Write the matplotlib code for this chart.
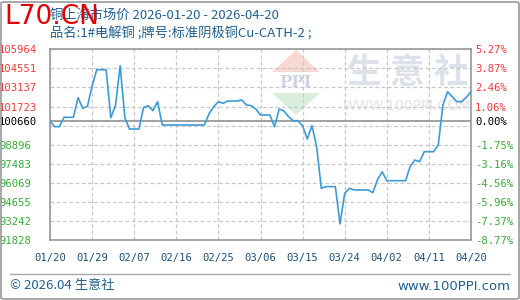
import matplotlib
matplotlib.use("Agg")
import matplotlib.pyplot as plt
import matplotlib.dates as mdates
from matplotlib.patches import Polygon, FancyBboxPatch
from matplotlib.lines import Line2D
import pandas as pd

plt.rcParams['font.family'] = ['Noto Sans CJK SC', 'DejaVu Sans']

# ---------------- data ----------------
start_date = "2026-01-20"
prices = [
    100660, 100238, 100238, 100930, 100930, 100930, 102383, 101597, 101750, 103250,
    104454, 104454, 104454, 100902, 101800, 104750, 100900, 100065, 100065, 100065,
    101643, 101790, 101420, 102086, 100360, 100360, 100360, 100360, 100360, 100360,
    100360, 100360, 100360, 100360, 101200, 101717, 102086, 101965, 102138, 102138,
    102138, 102212, 101842, 101790, 101546, 101102, 101102, 101102, 100238, 101546,
    101398, 100976, 100680, 100680, 100300, 99326, 100310, 98756, 95678, 95800,
    95800, 95800, 93036, 95300, 95678, 95553, 95553, 95553, 95553, 95355,
    96300, 96905, 96239, 96239, 96239, 96239, 96239, 97300, 97772, 97648,
    98386, 98386, 98386, 98880, 101850, 102826, 102450, 102086, 102086, 102400,
    102826,
]
base_price = 100660
grid_values = [91828, 93242, 94655, 96069, 97483, 98896, 100310,
               101723, 103137, 104551, 105964]
left_ticks = [91828, 93242, 94655, 96069, 97483, 98896, 100660,
              101723, 103137, 104551, 105964]
left_labels = ["91828", "93242", "94655", "96069", "97483", "98896", "100660",
               "101723", "103137", "104551", "105964"]
right_labels = ["-8.77%", "-7.37%", "-5.96%", "-4.56%", "-3.16%", "-1.75%", "0.00%",
                "1.06%", "2.46%", "3.87%", "5.27%"]
x_tick_labels = ["01/20", "01/29", "02/07", "02/16", "02/25", "03/06",
                 "03/15", "03/24", "04/02", "04/11", "04/20"]
title1 = "铜上海市场价 2026-01-20 - 2026-04-20"
title2 = "品名:1#电解铜 ;牌号:标准阴极铜Cu-CATH-2 ;"

dates = pd.date_range(start_date, periods=len(prices), freq="D")
xticks = pd.date_range(start_date, periods=len(x_tick_labels), freq="9D")

# ---------------- figure ----------------
W, H = 520, 300
fig = plt.figure(figsize=(W / 100, H / 100), dpi=100)
fig.patch.set_facecolor("white")


def px(x, y):
    return (x / W, 1 - y / H)


ax_l, ax_r, ax_t, ax_b = 50, 471, 49.3, 240.3
ax = fig.add_axes([ax_l / W, 1 - ax_b / H, (ax_r - ax_l) / W, (ax_b - ax_t) / H])
ax.set_facecolor("white")

ax.set_xlim(dates[0], dates[-1])
ax.set_ylim(grid_values[0], grid_values[-1])

# grid
for gv in grid_values:
    ax.axhline(gv, color="#c8c8c8", lw=0.9, ls=(0, (3, 2)), zorder=1)
for xt in xticks:
    ax.axvline(xt, color="#c8c8c8", lw=0.9, ls=(0, (3, 2)), zorder=1)
ax.axhline(base_price, color="#999999", lw=1.3, zorder=2)

# watermark
tr = fig.transFigure
ax.add_patch(Polygon([px(296, 50), px(272, 72), px(320, 72)], closed=True,
                     transform=tr, facecolor="#f7d8d3", edgecolor="none", zorder=0.5))
ax.add_patch(Polygon([px(272, 93), px(320, 93), px(296, 115)], closed=True,
                     transform=tr, facecolor="#d9eedc", edgecolor="none", zorder=0.5))
ax.text(*px(296, 83), "PPI", transform=tr, ha="center", va="center",
        fontsize=12, color="#cdd4e4", family="DejaVu Serif", fontweight="bold", zorder=0.5)
for ch, cx in zip("生意社", [364, 407, 451]):
    ax.text(*px(cx, 72), ch, transform=tr, ha="center", va="center",
            fontsize=25, color="#dde1ea", fontweight="bold", zorder=0.5)
ax.text(*px(407, 106), "WWW.100PPI.COM", transform=tr, ha="center", va="center",
        fontsize=10, color="#e2e2e2", family="DejaVu Sans", zorder=0.5)

# line
ax.plot(dates, prices, color="#3b9bd6", lw=1.2, zorder=3)

# spines
for s in ax.spines.values():
    s.set_color("#999999")
    s.set_linewidth(1.2)

# ticks
mono = "DejaVu Sans Mono"
ax.set_xticks(xticks)
ax.set_xticklabels(x_tick_labels, family=mono, fontsize=7.6, color="#1a4f7a")
ax.tick_params(axis="x", length=0, pad=9)
ax.set_yticks(left_ticks)
ax.set_yticklabels(left_labels, family=mono, fontsize=7.6)
ax.tick_params(axis="y", length=0, pad=8)

axr = ax.twinx()
axr.set_ylim(ax.get_ylim())
axr.set_yticks(left_ticks)
axr.set_yticklabels(right_labels, family=mono, fontsize=7.6)
axr.tick_params(axis="y", length=0, pad=3)
for s in axr.spines.values():
    s.set_visible(False)


def col(v):
    if v > base_price:
        return "#f03a3a"
    if v < base_price:
        return "#36aa36"
    return "black"


for lab, v in zip(ax.get_yticklabels(), left_ticks):
    lab.set_color(col(v))
    lab.set_horizontalalignment("left")
for lab in ax.get_yticklabels():
    lab.set_x(-40 / (ax_r - ax_l))
for lab, v in zip(axr.get_yticklabels(), left_ticks):
    lab.set_color(col(v))

# titles
fig.text(*px(50, 15), title1, fontsize=9.5, color="#20608f", va="center", ha="left")
fig.text(*px(50, 34), title2, fontsize=9.5, color="#20608f", va="center", ha="left")
fig.text(*px(4, 16.5), "L70.CN", fontsize=19, color="#e00000", va="center", ha="left",
         family="DejaVu Sans")

# footer
fig.add_artist(Line2D([10 / W, 510 / W], [1 - 274 / H, 1 - 274 / H],
                      color="#aaaaaa", lw=1.0))
fig.text(*px(10, 286), "© 2026.04 生意社", fontsize=9.5, color="#20608f",
         va="center", ha="left")
fig.text(*px(510, 286), "www.100PPI.com", fontsize=9.5, color="#20608f",
         va="center", ha="right", family="DejaVu Sans")

# outer frame
fig.add_artist(FancyBboxPatch((1 / W, 1 / H), 518 / W, 297 / H,
                              boxstyle="round,pad=0,rounding_size=0.005",
                              transform=fig.transFigure, facecolor="none",
                              edgecolor="#999999", lw=1.2))

fig.savefig("out.png", dpi=100)
